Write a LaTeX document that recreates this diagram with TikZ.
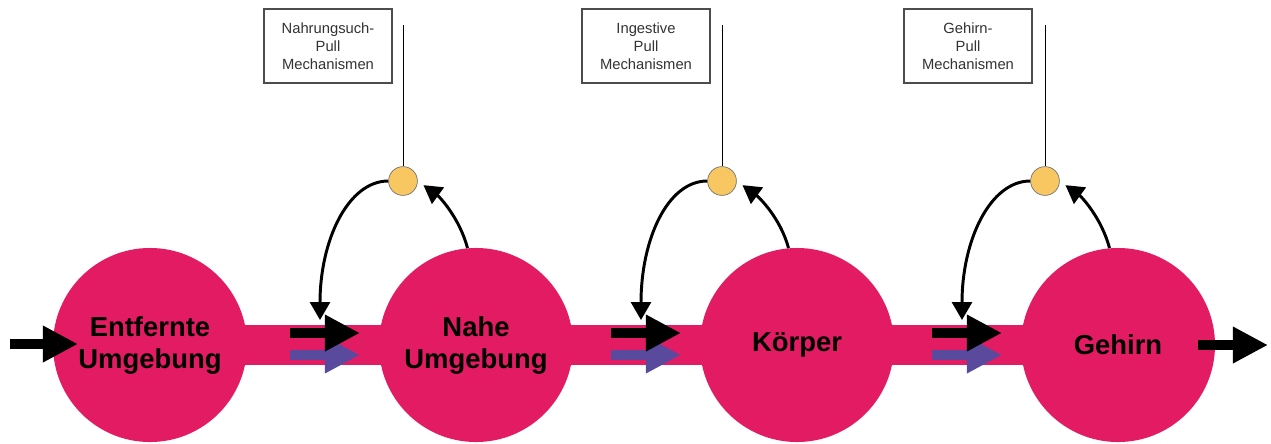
\documentclass[tikz,border=0pt]{standalone}
\usepackage{fontspec}
\setmainfont{Liberation Sans}
\usepackage{xcolor}
\usetikzlibrary{arrows.meta}

\definecolor{rosa}{HTML}{E31B63}
\definecolor{lila}{HTML}{5A4A9E}
\definecolor{gelb}{HTML}{F9C762}

\begin{document}
\begin{tikzpicture}[x=0.025cm,y=-0.025cm,
        kreis/.style={circle,fill=rosa,minimum size=4.85cm,inner sep=0pt,align=center,
            font=\fontsize{19.5}{22.8}\selectfont\bfseries},
        punkt/.style={circle,fill=gelb,draw=black!55,line width=0.5pt,minimum size=0.72cm,inner sep=0pt},
        kasten/.style={draw=black!70,line width=0.9pt,fill=white,minimum width=3.2cm,minimum height=1.85cm,
            align=center,text=black!80,font=\fontsize{10.5}{12.8}\selectfont},
        dickpfeil/.style={line width=0.25cm,-{Triangle[length=0.88cm,width=0.86cm]}},
        bogen/.style={line width=2.1pt,-{Triangle[length=0.45cm,width=0.5cm]}}]
        \useasboundingbox (0,0) rectangle (1271,443);

        % 定义四个圆的圆心
        \coordinate (K1) at (150,345);
        \coordinate (K2) at (476,345);
        \coordinate (K3) at (797,345);
        \coordinate (K4) at (1118,345);

        % 绘制横带和圆
        \draw[rosa,line width=1cm] (K1) -- (K4);
        \node[kreis] (k1) at (K1) {Entfernte\\Umgebung};
        \node[kreis] (k2) at (K2) {Nahe\\Umgebung};
        \node[kreis] (k3) at (K3) {Körper};
        \node[kreis] (k4) at (K4) {Gehirn};

        % 入口和出口的箭头
        \coordinate (ein) at (10,344);
        \coordinate (einspitze) at (78,344);
        \coordinate (aus) at (1268,345);
        \draw[dickpfeil] (ein) -- (einspitze);
        \draw[dickpfeil] ([xshift=2cm]k4.center) -- (aus);

        % 横带上的箭头
        \draw[dickpfeil,lila] ([xshift=-4.65cm,yshift=-0.25cm]k2.center) -- ([xshift=-2.9cm,yshift=-0.25cm]k2.center);
        \draw[dickpfeil] ([xshift=-4.65cm,yshift=0.3cm]k2.center) -- ([xshift=-2.9cm,yshift=0.3cm]k2.center);
        \draw[dickpfeil,lila] ([xshift=-4.65cm,yshift=-0.25cm]k3.center) -- ([xshift=-2.9cm,yshift=-0.25cm]k3.center);
        \draw[dickpfeil] ([xshift=-4.65cm,yshift=0.3cm]k3.center) -- ([xshift=-2.9cm,yshift=0.3cm]k3.center);
        \draw[dickpfeil,lila] ([xshift=-4.65cm,yshift=-0.25cm]k4.center) -- ([xshift=-2.9cm,yshift=-0.25cm]k4.center);
        \draw[dickpfeil] ([xshift=-4.65cm,yshift=0.3cm]k4.center) -- ([xshift=-2.9cm,yshift=0.3cm]k4.center);

        % 小圆点和说明框
        \node[punkt] (p1) at (403,181) {};
        \node[punkt] (p2) at (722,181) {};
        \node[punkt] (p3) at (1045,181) {};
        \node[kasten] (m1) at (328,46) {Nahrungsuch-\\Pull\\Mechanismen};
        \node[kasten] (m2) at (646,46) {Ingestive\\Pull\\Mechanismen};
        \node[kasten] (m3) at (968,46) {Gehirn-\\Pull\\Mechanismen};
        \coordinate (l1) at (403,25);
        \coordinate (l2) at (722,25);
        \coordinate (l3) at (1045,25);
        \draw[line width=0.7pt] (p1) -- (l1);
        \draw[line width=0.7pt] (p2) -- (l2);
        \draw[line width=0.7pt] (p3) -- (l3);

        % 反馈的弧线
        \coordinate (e1) at (320,320);
        \coordinate (e2) at (641,320);
        \coordinate (e3) at (962,320);
        \draw[bogen,shorten >=5pt] (k2.95) .. controls +(-8,-30) and +(22,16) .. (p1.east);
        \draw[bogen] (p1.west) .. controls +(-40,0) and +(0,-80) .. (e1);
        \draw[bogen,shorten >=5pt] (k3.95) .. controls +(-8,-30) and +(22,16) .. (p2.east);
        \draw[bogen] (p2.west) .. controls +(-40,0) and +(0,-80) .. (e2);
        \draw[bogen,shorten >=5pt] (k4.95) .. controls +(-8,-30) and +(22,16) .. (p3.east);
        \draw[bogen] (p3.west) .. controls +(-40,0) and +(0,-80) .. (e3);
    \end{tikzpicture}
\end{document}
